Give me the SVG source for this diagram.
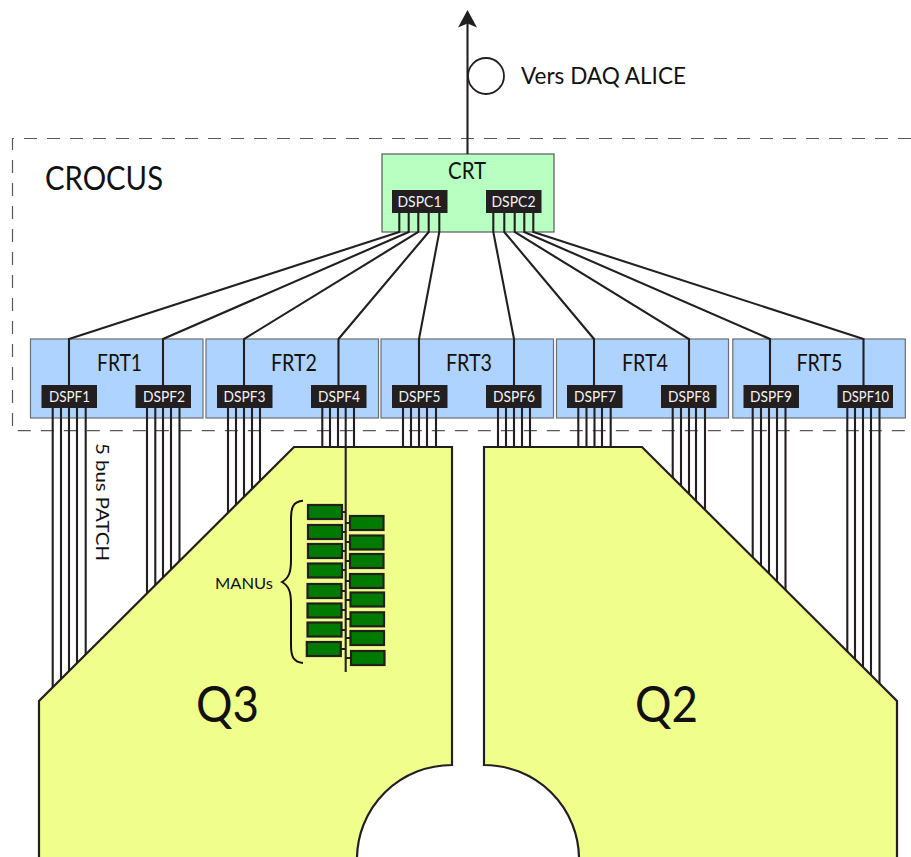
<svg xmlns="http://www.w3.org/2000/svg" width="911" height="857" viewBox="0 0 911 857">
<style>
text{font-family:"Lato","Open Sans","Liberation Sans",sans-serif;fill:#111}
.frt{fill:#aed3ff;stroke:#6d6e71;stroke-width:1.2}
.chip{fill:#231f20}
.chipt{fill:#f2f2f2;font-size:14.500px;text-anchor:middle}
.lbl{font-size:23px;text-anchor:middle}
.w{fill:none;stroke:#231f20;stroke-width:2.100}
.q{fill:#f0ff8c;stroke:#231f20;stroke-width:2.200}
.m{fill:#007a00;stroke:#231f20;stroke-width:2.200}
.t{fill:none;stroke:#231f20;stroke-width:1.800}
</style>
<path d="M911 138.500H12.500V430.700H911" fill="none" stroke="#58595b" stroke-width="1.200" stroke-dasharray="13 10"/>
<g id="crt"><rect x="382" y="154" width="172" height="78" fill="#b8ffc2" stroke="#58595b" stroke-width="1.200"/>
<text class="lbl" x="467" y="179" textLength="38" lengthAdjust="spacingAndGlyphs">CRT</text></g>
<g id="frt1"><rect class="frt" x="30.500" y="339" width="172.500" height="79"/><text class="lbl" x="119.500" y="371" textLength="45" lengthAdjust="spacingAndGlyphs">FRT1</text></g>
<g id="frt2"><rect class="frt" x="206" y="339" width="172.500" height="79"/><text class="lbl" x="294" y="371" textLength="46" lengthAdjust="spacingAndGlyphs">FRT2</text></g>
<g id="frt3"><rect class="frt" x="381" y="339" width="172.500" height="79"/><text class="lbl" x="469" y="371" textLength="46" lengthAdjust="spacingAndGlyphs">FRT3</text></g>
<g id="frt4"><rect class="frt" x="556.500" y="339" width="172" height="79"/><text class="lbl" x="645" y="371" textLength="46" lengthAdjust="spacingAndGlyphs">FRT4</text></g>
<g id="frt5"><rect class="frt" x="732.800" y="339" width="172.500" height="79"/><text class="lbl" x="819.500" y="371" textLength="46" lengthAdjust="spacingAndGlyphs">FRT5</text></g>
<g id="fiber"><circle cx="486" cy="76" r="18" fill="#fff" stroke="#231f20" stroke-width="1.800"/><text x="521" y="84" font-size="23" textLength="165" lengthAdjust="spacingAndGlyphs">Vers DAQ ALICE</text></g>
<g id="connectors">
<path class="w" d="M467.500 154V20"/>
<path class="w" d="M399.300 213V232L69 339V385M408.700 213V232L163 339V385M418.300 213V232L244 339V385M428.700 213V232L338.500 339V385M439.300 213V232L419 339V385M493.300 213V232L514 339V385M504.300 213V232L594 339V385M514.700 213V232L689 339V385M524.300 213V232L770 339V385M533.300 213V232L863.500 339V385"/>
<path class="w" d="M52.700 408V700M61 408V700M69 408V700M77 408V700M85.700 408V700M147 408V600M155.300 408V600M163 408V600M171 408V600M179.500 408V600M228 408V520M236 408V520M244 408V520M252 408V520M260 408V520M322.300 408V450M330 408V450M338 408V450M354 408V450M403 408V450M411 408V450M419 408V450M427 408V450M436 408V450M498 408V450M506 408V450M514 408V450M522 408V450M530 408V450M578.300 408V450M586.500 408V450M594.500 408V450M602 408V450M610.700 408V450M672.700 408V520M681 408V520M689 408V520M696 408V520M705 408V520M752.700 408V600M761 408V600M769 408V600M777 408V600M785.500 408V600M847.300 408V700M855 408V700M863 408V700M871 408V700M879.500 408V700"/>
</g>
<g id="arrow"><path d="M467.500 10L458 27.500L467.500 23.500L477 27.500Z" fill="#231f20"/></g>
<text x="45" y="190" font-size="32" textLength="118" lengthAdjust="spacingAndGlyphs">CROCUS</text>
<g id="dspc1"><rect class="chip" x="392" y="190" width="55.500" height="23"/><text class="chipt" x="419.500" y="206.500" textLength="44" lengthAdjust="spacingAndGlyphs">DSPC1</text></g>
<g id="dspc2"><rect class="chip" x="486" y="190" width="55.500" height="23"/><text class="chipt" x="513.500" y="206.500" textLength="44" lengthAdjust="spacingAndGlyphs">DSPC2</text></g>
<g id="dspf1"><rect class="chip" x="41.500" y="385" width="55.500" height="23"/><text class="chipt" x="69.500" y="401.500" textLength="41" lengthAdjust="spacingAndGlyphs">DSPF1</text></g>
<g id="dspf2"><rect class="chip" x="135.500" y="385" width="55.500" height="23"/><text class="chipt" x="164" y="401.500" textLength="42" lengthAdjust="spacingAndGlyphs">DSPF2</text></g>
<g id="dspf3"><rect class="chip" x="217" y="385" width="55.500" height="23"/><text class="chipt" x="244.500" y="401.500" textLength="42" lengthAdjust="spacingAndGlyphs">DSPF3</text></g>
<g id="dspf4"><rect class="chip" x="311" y="385" width="55.500" height="23"/><text class="chipt" x="339" y="401.500" textLength="42" lengthAdjust="spacingAndGlyphs">DSPF4</text></g>
<g id="dspf5"><rect class="chip" x="392" y="385" width="55.500" height="23"/><text class="chipt" x="419.500" y="401.500" textLength="42" lengthAdjust="spacingAndGlyphs">DSPF5</text></g>
<g id="dspf6"><rect class="chip" x="486" y="385" width="55.500" height="23"/><text class="chipt" x="514" y="401.500" textLength="42" lengthAdjust="spacingAndGlyphs">DSPF6</text></g>
<g id="dspf7"><rect class="chip" x="567" y="385" width="55.500" height="23"/><text class="chipt" x="595" y="401.500" textLength="42" lengthAdjust="spacingAndGlyphs">DSPF7</text></g>
<g id="dspf8"><rect class="chip" x="661" y="385" width="55.500" height="23"/><text class="chipt" x="689" y="401.500" textLength="42" lengthAdjust="spacingAndGlyphs">DSPF8</text></g>
<g id="dspf9"><rect class="chip" x="743.500" y="385" width="55.500" height="23"/><text class="chipt" x="771" y="401.500" textLength="42" lengthAdjust="spacingAndGlyphs">DSPF9</text></g>
<g id="dspf10"><rect class="chip" x="837.500" y="385" width="55.500" height="23"/><text class="chipt" x="865.500" y="401.500" textLength="47" lengthAdjust="spacingAndGlyphs">DSPF10</text></g>
<text transform="translate(96 443) rotate(90)" font-size="18" textLength="118" lengthAdjust="spacingAndGlyphs">5 bus PATCH</text>
<g id="q3"><path class="q" d="M39 859V701L294 447H452V765A95 94 0 0 0 357 859Z"/><text x="196" y="722" font-size="50" textLength="63" lengthAdjust="spacingAndGlyphs">Q3</text></g>
<g id="q2"><path class="q" d="M484 447H642L897 701V859H579A95 94 0 0 0 484 765Z"/><text x="635" y="722" font-size="50" textLength="63" lengthAdjust="spacingAndGlyphs">Q2</text></g>
<g id="manus">
<path class="w" d="M345.700 408V672"/>
<path class="t" d="M342 512H346M342 532H346M342 551H346M342 570H346M341 591H346M341 610H346M341 630H346M340 649H346M346 523H350M346 542H350M346 561H350M346 581H350M346 600H350M346 619H350M346 638H351M346 658H351"/>
<rect class="m" x="308" y="505" width="34" height="14"/>
<rect class="m" x="308" y="525" width="34" height="14"/>
<rect class="m" x="308" y="544" width="34" height="14"/>
<rect class="m" x="308" y="563.500" width="34" height="14"/>
<rect class="m" x="307.500" y="584" width="34" height="14"/>
<rect class="m" x="307.500" y="603.500" width="34" height="14"/>
<rect class="m" x="307.500" y="622.500" width="34" height="14"/>
<rect class="m" x="306.800" y="642" width="34" height="14"/>
<rect class="m" x="350" y="516" width="33.500" height="14"/>
<rect class="m" x="350" y="535.500" width="33.500" height="14"/>
<rect class="m" x="350" y="554" width="33.500" height="14"/>
<rect class="m" x="350" y="574" width="33.500" height="14"/>
<rect class="m" x="350.500" y="592.500" width="33.500" height="14"/>
<rect class="m" x="350.500" y="612.300" width="33.500" height="14"/>
<rect class="m" x="350.500" y="631" width="33.500" height="14"/>
<rect class="m" x="351" y="651" width="33.500" height="14"/>
<path d="M303 500.800C293 501.500 291 508 291 518V560C291 572 289 578 282 582C289 586 291 592 291 604V645C291 656 293 662 303 663" fill="none" stroke="#111" stroke-width="2"/>
<text x="215" y="589" font-size="16" textLength="58" lengthAdjust="spacingAndGlyphs">MANUs</text>
</g>
</svg>
